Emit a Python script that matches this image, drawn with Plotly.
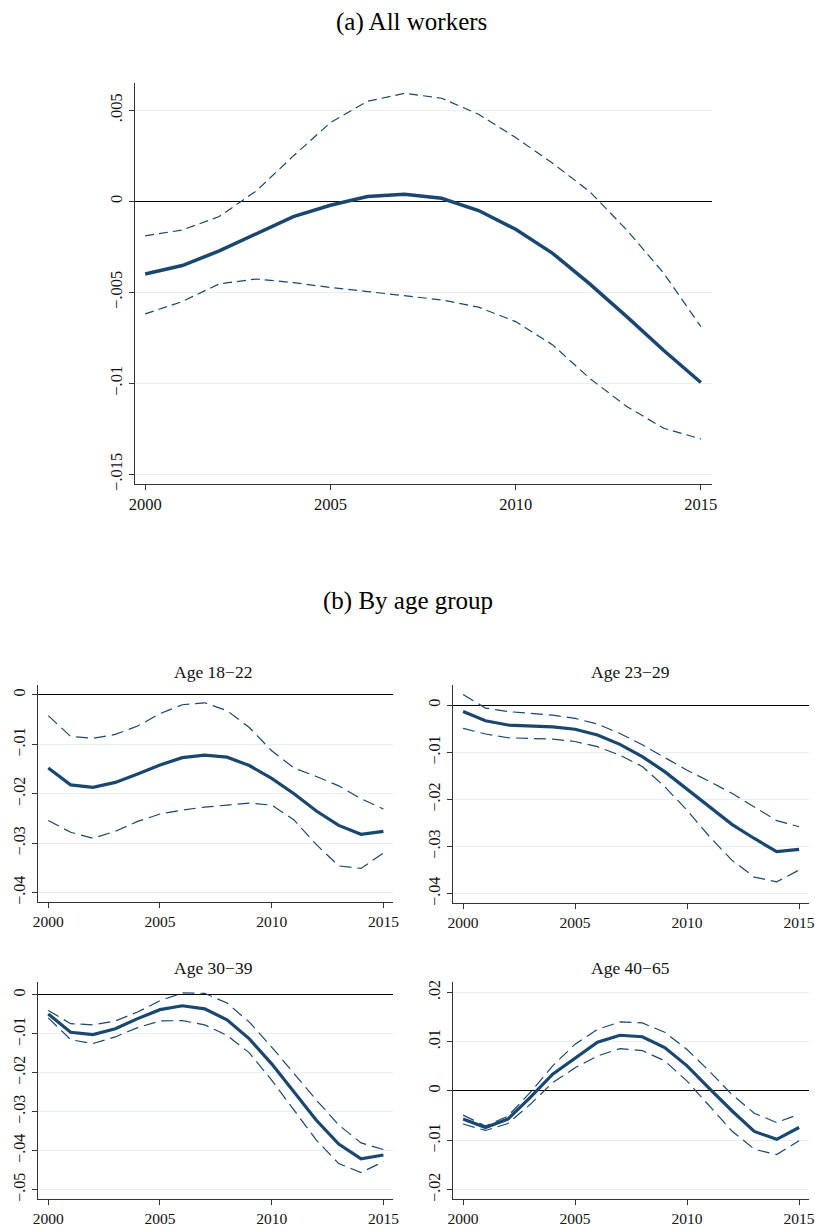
import plotly.graph_objects as go

years = list(range(2000, 2016))

# (a) All workers
all_est = [-0.0040, -0.00353, -0.00273, -0.00178, -0.00084, -0.00022, 0.00026, 0.00038,
           0.00016, -0.00051, -0.00154, -0.00286, -0.00454, -0.00634, -0.0082, -0.00996]
all_hi = [-0.0019, -0.00158, -0.00084, 0.00057, 0.00249, 0.00432, 0.00549, 0.00593,
          0.00566, 0.00478, 0.0035, 0.00209, 0.00053, -0.00158, -0.00396, -0.00689]
all_lo = [-0.00619, -0.00551, -0.00454, -0.00427, -0.00447, -0.00474, -0.00496, -0.00518,
          -0.00542, -0.00582, -0.00661, -0.00789, -0.00973, -0.01128, -0.01247, -0.01306]

# (b) By age group
a1_est = [-0.0148, -0.0182, -0.0187, -0.0177, -0.0160, -0.0142, -0.0127, -0.0122,
          -0.0126, -0.0143, -0.0169, -0.0200, -0.0235, -0.0264, -0.0282, -0.0276]
a1_hi = [-0.0042, -0.0084, -0.0088, -0.0080, -0.0063, -0.0038, -0.0020, -0.0016,
         -0.0032, -0.0066, -0.0113, -0.0148, -0.0165, -0.0184, -0.0210, -0.0231]
a1_lo = [-0.0254, -0.0278, -0.0290, -0.0276, -0.0256, -0.0241, -0.0233, -0.0227,
         -0.0223, -0.0219, -0.0223, -0.0253, -0.0303, -0.0346, -0.0351, -0.0320]

a2_est = [-0.00135, -0.0033, -0.0042, -0.0044, -0.0046, -0.0051, -0.0063, -0.0083,
          -0.0109, -0.0141, -0.0179, -0.0217, -0.0253, -0.0283, -0.0311, -0.0306]
a2_hi = [0.0023, -0.0006, -0.00135, -0.0017, -0.0021, -0.0028, -0.0040, -0.0060,
         -0.0084, -0.0111, -0.0138, -0.0162, -0.0187, -0.0216, -0.0245, -0.0258]
a2_lo = [-0.0049, -0.0061, -0.0069, -0.0071, -0.0072, -0.0077, -0.0088, -0.0106,
         -0.0130, -0.0173, -0.0223, -0.0279, -0.0329, -0.0365, -0.0375, -0.0350]

a3_est = [-0.0049, -0.0096, -0.0102, -0.0087, -0.0061, -0.0038, -0.0028, -0.0036,
          -0.0064, -0.0113, -0.0177, -0.0249, -0.0322, -0.0383, -0.0421, -0.0411]
a3_hi = [-0.0040, -0.0074, -0.0077, -0.0067, -0.0044, -0.0015, 0.0005, 0.0004,
         -0.0021, -0.0070, -0.0134, -0.0202, -0.0270, -0.0334, -0.0380, -0.0397]
a3_lo = [-0.0059, -0.0115, -0.0125, -0.0108, -0.0084, -0.0067, -0.0066, -0.0077,
         -0.0104, -0.0149, -0.0219, -0.0296, -0.0373, -0.0433, -0.0456, -0.0428]

a4_est = [-0.0057, -0.0074, -0.0057, -0.0013, 0.0034, 0.0067, 0.0099, 0.0113,
          0.0110, 0.0088, 0.0051, 0.0005, -0.0040, -0.0082, -0.0098, -0.0074]
a4_hi = [-0.0049, -0.0071, -0.0051, -0.0003, 0.0051, 0.0095, 0.0125, 0.0140,
         0.0138, 0.0119, 0.0084, 0.0040, -0.0007, -0.0045, -0.0064, -0.0047]
a4_lo = [-0.0067, -0.0080, -0.0066, -0.0027, 0.0017, 0.0047, 0.0071, 0.0086,
         0.0082, 0.0061, 0.0020, -0.0030, -0.0081, -0.0118, -0.0129, -0.0101]

panel_a_title = "(a) All workers"
panel_b_title = "(b) By age group"
age_titles = ["Age 18\u221222", "Age 23\u221229", "Age 30\u221239", "Age 40\u221265"]

top_ticks = [0.005, 0, -0.005, -0.01, -0.015]
top_ticktext = [".005", "0", "\u2212.005", "\u2212.01", "\u2212.015"]
sub_ticks = [[0, -0.01, -0.02, -0.03, -0.04],
             [0, -0.01, -0.02, -0.03, -0.04],
             [0, -0.01, -0.02, -0.03, -0.04, -0.05],
             [0.02, 0.01, 0, -0.01, -0.02]]
x_ticks = [2000, 2005, 2010, 2015]

W, H = 815, 1229
NAVY = "#1a476f"
GRID = "#e8eff2"
AX = "#333333"
FONT = "Liberation Serif, Times New Roman, serif"


def fmt(v):
    if v == 0:
        return "0"
    s = ("%g" % abs(v)).lstrip("0")
    return ("\u2212" if v < 0 else "") + s


fig = go.Figure()

# geometry in pixels: (x0, x1, ytop, ybottom)
boxes = [
    (134.8, 711.6, 83.3, 484.3),
    (38, 393, 685, 902),
    (453, 808.5, 685, 903),
    (38, 393, 982, 1199),
    (453, 808.5, 982, 1199),
]
yranges = [
    [-0.01555, 0.00648],
    [-0.0419, 0.0020],
    [-0.0420, 0.0043],
    [-0.0524, 0.0033],
    [-0.0219, 0.0221],
]
xranges = [
    [1999.72, 2015.29],
    [1999.54, 2015.43],
    [1999.55, 2015.42],
    [1999.54, 2015.43],
    [1999.55, 2015.42],
]

series = [
    (all_est, all_hi, all_lo),
    (a1_est, a1_hi, a1_lo),
    (a2_est, a2_hi, a2_lo),
    (a3_est, a3_hi, a3_lo),
    (a4_est, a4_hi, a4_lo),
]

layout = {}
for i, ((x0, x1, yt, yb), (est, hi, lo)) in enumerate(zip(boxes, series)):
    n = "" if i == 0 else str(i + 1)
    xa, ya = "x" + n, "y" + n
    dash = "9px,5px" if i == 0 else "12px,6px"
    mainw = 3.5 if i == 0 else 3.2
    for vals, w, d in ((hi, 1.2, dash), (lo, 1.2, dash), (est, mainw, "solid")):
        fig.add_trace(go.Scatter(x=years, y=vals, mode="lines", xaxis=xa, yaxis=ya,
                                 line=dict(color=NAVY, width=w, dash=d),
                                 showlegend=False, hoverinfo="skip"))
    if i == 0:
        tv, tt = top_ticks, top_ticktext
        fs = 16.5
    else:
        tv = sub_ticks[i - 1]
        tt = [fmt(v) for v in tv]
        fs = 15.5
    layout["xaxis" + n] = dict(
        domain=[x0 / W, x1 / W], range=xranges[i], anchor=ya, automargin=False,
        tickvals=x_ticks, ticktext=[str(t) for t in x_ticks], ticklabeloverflow="allow",
        ticks="outside", ticklen=5, tickcolor=AX, tickwidth=1,
        showline=True, linecolor=AX, linewidth=1.3, showgrid=False, zeroline=False,
        tickfont=dict(family=FONT, size=fs, color="#111"), fixedrange=True)
    layout["yaxis" + n] = dict(
        domain=[1 - yb / H, 1 - yt / H], range=yranges[i], anchor=xa, automargin=False,
        tickvals=tv, ticktext=tt, tickangle=-90, ticklabeloverflow="allow",
        ticks="outside", ticklen=5, tickcolor=AX, tickwidth=1,
        showline=True, linecolor=AX, linewidth=1.3,
        showgrid=True, gridcolor=GRID, gridwidth=1,
        zeroline=True, zerolinecolor="#000000", zerolinewidth=1.4,
        tickfont=dict(family=FONT, size=16.5 if i == 0 else 16, color="#111"),
        fixedrange=True)

annotations = [
    dict(text=panel_a_title, x=411 / W, y=1 - 22 / H, xref="paper", yref="paper",
         showarrow=False, font=dict(family=FONT, size=25, color="#000"),
         xanchor="center", yanchor="middle"),
    dict(text=panel_b_title, x=408 / W, y=1 - 601 / H, xref="paper", yref="paper",
         showarrow=False, font=dict(family=FONT, size=25, color="#000"),
         xanchor="center", yanchor="middle"),
]
title_pos = [(213, 672), (630, 672), (213, 968), (630, 968)]
for t, (tx, ty) in zip(age_titles, title_pos):
    annotations.append(dict(text=t, x=tx / W, y=1 - ty / H, xref="paper", yref="paper",
                            showarrow=False, font=dict(family=FONT, size=17.5, color="#111"),
                            xanchor="center", yanchor="middle"))

fig.update_layout(
    template="none",
    width=W, height=H, margin=dict(l=0, r=0, t=0, b=0, autoexpand=False),
    paper_bgcolor="white", plot_bgcolor="white",
    annotations=annotations, **layout)

fig.write_html("out.html", config={"displayModeBar": False},
               post_script="document.body.style.margin='0px';document.body.style.padding='0px';")
